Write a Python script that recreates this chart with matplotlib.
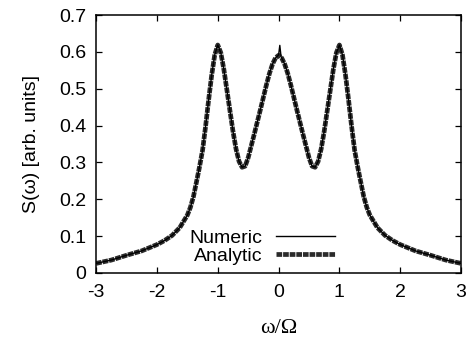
import matplotlib

matplotlib.use("Agg")
import matplotlib.pyplot as plt

# values (left half, mirrored for the right half)
omega_left = [-3.0, -2.75, -2.5, -2.25, -2.0, -1.875, -1.75, -1.625, -1.5, -1.45,
              -1.4, -1.35, -1.3, -1.25, -1.2, -1.15, -1.1, -1.05, -1.0, -0.95,
              -0.9, -0.85, -0.8, -0.75, -0.7, -0.65, -0.6, -0.55, -0.5, -0.45,
              -0.4, -0.35, -0.3, -0.25, -0.2, -0.15, -0.1, -0.05]
s_left = [0.026, 0.035, 0.048, 0.060, 0.077, 0.088, 0.102, 0.123, 0.157, 0.178,
          0.207, 0.247, 0.288, 0.333, 0.398, 0.470, 0.537, 0.592, 0.619, 0.598,
          0.553, 0.497, 0.441, 0.385, 0.337, 0.303, 0.287, 0.290, 0.313, 0.345,
          0.377, 0.410, 0.443, 0.477, 0.511, 0.542, 0.567, 0.584]
s_center = 0.591

omega = omega_left + [0.0] + [-w for w in reversed(omega_left)]
s_analytic = s_left + [s_center] + list(reversed(s_left))

# numeric run has a small spike right at the central peak
omega_num = omega_left + [0.0, 0.02, 0.04] + [-w for w in reversed(omega_left)]
s_numeric = s_left + [0.592, 0.618, 0.588] + list(reversed(s_left))

plt.rcParams["font.family"] = ["Liberation Sans", "DejaVu Sans"]
plt.rcParams["font.size"] = 14
plt.rcParams["axes.unicode_minus"] = False

fig = plt.figure(figsize=(4.71, 3.37), dpi=100)
ax = fig.add_axes([0.204, 0.190, 0.775, 0.765])

ax.plot(omega, s_analytic, color="#2a2a2a", lw=3.4, linestyle=(0, (1.2, 0.2)),
        label="Analytic", zorder=2)
ax.plot(omega_num, s_numeric, color="black", lw=1.0, label="Numeric", zorder=3)

ax.set_xlim(-3, 3)
ax.set_ylim(0, 0.7)
ax.set_xticks([-3, -2, -1, 0, 1, 2, 3])
ax.set_yticks([0, 0.1, 0.2, 0.3, 0.4, 0.5, 0.6, 0.7])
ax.set_yticklabels(["0", "0.1", "0.2", "0.3", "0.4", "0.5", "0.6", "0.7"])
ax.tick_params(direction="in", length=4.5, width=0.9, top=True, right=True)
ax.tick_params(axis="x", pad=8)
ax.tick_params(axis="y", pad=7)
for sp in ax.spines.values():
    sp.set_linewidth(1.1)

ax.set_xlabel("ω/Ω", family=["Liberation Serif", "DejaVu Serif"], fontsize=16, labelpad=13)
ax.set_ylabel("S(ω) [arb. units]", labelpad=14)

h, l = ax.get_legend_handles_labels()
ax.legend(h[::-1], l[::-1], loc="lower center", bbox_to_anchor=(0.455, 0.0),
          frameon=False, markerfirst=False, handlelength=3.0, handletextpad=0.7,
          labelspacing=0.05, borderaxespad=0)

fig.savefig("out.png", dpi=100)
